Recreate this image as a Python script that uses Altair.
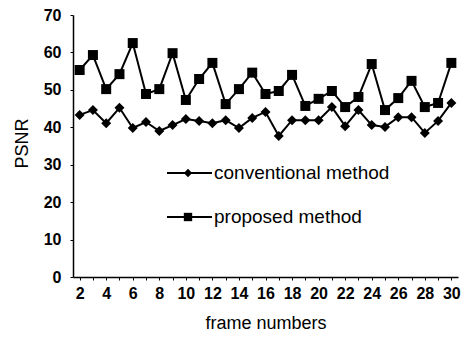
import altair as alt
import pandas as pd

frames = list(range(2, 31))
conventional = [43.3, 44.6, 41.1, 45.2, 39.8, 41.4, 39.0, 40.6, 42.2, 41.7,
                41.1, 41.9, 39.8, 42.5, 44.1, 37.7, 41.9, 41.9, 41.9, 45.4,
                40.3, 44.6, 40.6, 40.1, 42.7, 42.7, 38.5, 41.7, 46.5]
proposed = [55.3, 59.3, 50.2, 54.2, 62.5, 48.9, 50.2, 59.8, 47.3, 52.9,
            57.2, 46.2, 50.2, 54.6, 48.9, 49.7, 54.0, 45.7, 47.6, 49.7,
            45.4, 48.1, 56.9, 44.6, 47.8, 52.4, 45.4, 46.5, 57.2]
series_names = ["conventional method", "proposed method"]
y_ticks = [0, 10, 20, 30, 40, 50, 60, 70]
x_ticks = list(range(2, 31))

df = pd.DataFrame({
    "frame": frames * 2,
    "psnr": conventional + proposed,
    "series": [series_names[0]] * len(frames) + [series_names[1]] * len(frames),
})

FONT = "Liberation Sans"
W, H = 385, 262

x_axis = alt.Axis(values=x_ticks, labelExpr="datum.value % 2 == 0 ? datum.label : ''",
                  labelOverlap=False,
                  title="frame numbers", grid=False, domainColor="black",
                  domainWidth=1.5, tickColor="black", tickSize=3,
                  labelPadding=5, labelFontSize=16, labelFont=FONT,
                  labelColor="black", labelFontWeight="bold",
                  titleFont=FONT, titleFontSize=18, titleFontWeight="normal",
                  titleColor="black", titleX=W / 2, titleY=46,
                  titleBaseline="middle", titleAlign="center")
y_axis = alt.Axis(values=y_ticks, title="PSNR", grid=False, domainColor="black",
                  labelOverlap=False,
                  domainWidth=1.5, tickColor="black", tickSize=3,
                  labelPadding=9, labelFontSize=16, labelFont=FONT,
                  labelColor="black", labelFontWeight="bold",
                  titleFont=FONT, titleFontSize=18, titleFontWeight="normal",
                  titleColor="black", titleX=-51, titleY=128, titleAngle=-90,
                  titleBaseline="middle", titleAlign="center")
x_scale = alt.Scale(domain=[1.5, 30.5], nice=False, zero=False)
y_scale = alt.Scale(domain=[0, 70], nice=False)

shape_scale = alt.Scale(domain=series_names, range=["diamond", "square"])

lines = alt.Chart(df).mark_line(color="black", strokeWidth=2).encode(
    x=alt.X("frame:Q", scale=x_scale, axis=x_axis),
    y=alt.Y("psnr:Q", scale=y_scale, axis=y_axis),
    detail="series:N")
points = alt.Chart(df).mark_point(filled=True, color="black", size=100, opacity=1).encode(
    x=alt.X("frame:Q", scale=x_scale, axis=x_axis),
    y=alt.Y("psnr:Q", scale=y_scale, axis=y_axis),
    shape=alt.Shape("series:N", scale=shape_scale, legend=None))

legend_layers = []
for name, ly, shp in zip(series_names, [158, 202], ["diamond", "square"]):
    base = alt.Chart(pd.DataFrame({"series": [name]}))
    legend_layers.append(base.mark_rule(color="black", strokeWidth=2).encode(
        x=alt.value(94), x2=alt.value(139), y=alt.value(ly)))
    legend_layers.append(base.mark_point(filled=True, color="black", size=70, opacity=1,
                                         shape=shp).encode(
        x=alt.value(115), y=alt.value(ly)))
    legend_layers.append(base.mark_text(align="left", baseline="middle", font=FONT,
                                        fontSize=19, color="black").encode(
        x=alt.value(141), y=alt.value(ly), text="series:N"))

chart = alt.layer(lines, points, *legend_layers).properties(
    width=W, height=H,
    autosize=alt.AutoSizeParams(type="none"),
    padding={"left": 73, "top": 15, "right": 9, "bottom": 62},
    background="white",
).configure_view(stroke=None).configure_axis(labelOverlap=False)

chart.save("out.html", embed_options={"renderer": "svg", "actions": False})
